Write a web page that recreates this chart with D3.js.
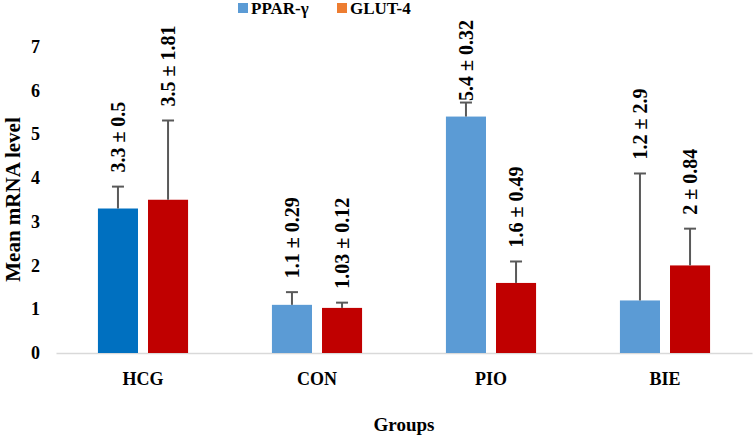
<!DOCTYPE html>
<html lang="en">
<head>
    <meta charset="UTF-8">
    <title>Mean mRNA level by group</title>
    <script src="https://cdn.jsdelivr.net/npm/d3@7"></script>
    <style>
        body { margin: 0; background: #fff; }
        svg text { font-family: "Liberation Serif", "DejaVu Serif", serif !important; font-weight: bold; fill: #000; }
    </style>
</head>
<body>
    <svg id="chart" width="753" height="437"></svg>
    <script>
        // data
        var groups = ["HCG", "CON", "PIO", "BIE"];
        var series = ["PPAR-γ", "GLUT-4"];
        var pparMean = [3.3, 1.1, 5.4, 1.2];
        var pparSd = [0.5, 0.29, 0.32, 2.9];
        var glutMean = [3.5, 1.03, 1.6, 2];
        var glutSd = [1.81, 0.12, 0.49, 0.84];
        var yTicks = [0, 1, 2, 3, 4, 5, 6, 7];

        var svg = d3.select("#chart");
        var marge = { top: 46, bottom: 84, left: 56, right: 1 };
        var width = +svg.attr("width");
        var height = +svg.attr("height");
        var y0 = height - marge.bottom;

        // flatten into bars
        var bars = [];
        groups.forEach(function (g, i) {
            bars.push({ group: g, s: series[0], v: pparMean[i], sd: pparSd[i] });
            bars.push({ group: g, s: series[1], v: glutMean[i], sd: glutSd[i] });
        });

        var x = d3.scaleBand().domain(groups).range([marge.left, width - marge.right]);
        var bw = x.bandwidth();
        var xs = d3.scaleBand().domain(series).range([bw * 0.241, bw * 0.759]).paddingInner(0.2);
        var y = d3.scaleLinear().domain([0, 7]).range([y0, marge.top + 0.5]);

        function color(d) {
            if (d.s === series[1]) return "#C00000";
            return d.group === "HCG" ? "#0070C0" : "#5B9BD5";
        }

        // y axis (labels only)
        var yAxis = d3.axisLeft(y).tickValues(yTicks).tickFormat(d3.format("d")).tickSize(0).tickPadding(0);
        var gy = svg.append("g").attr("transform", "translate(40,0)").call(yAxis);
        gy.select(".domain").remove();
        gy.selectAll("text").attr("font-size", 18);

        // x axis
        var xAxis = d3.axisBottom(x).tickSize(0).tickPadding(19);
        var gx = svg.append("g").attr("transform", "translate(0," + y0 + ")").call(xAxis);
        gx.select(".domain").attr("stroke", "#D9D9D9").attr("stroke-width", 1.5);
        gx.selectAll("text").attr("font-size", 18);

        // bars
        svg.append("g").selectAll("rect")
            .data(bars)
            .enter()
            .append("rect")
            .attr("x", function (d) { return x(d.group) + xs(d.s); })
            .attr("y", function (d) { return y(d.v); })
            .attr("width", xs.bandwidth())
            .attr("height", function (d) { return y0 - y(d.v); })
            .attr("fill", color);

        // error bars (plus only)
        var eg = svg.append("g").attr("stroke", "#595959").attr("stroke-width", 2);
        bars.forEach(function (d) {
            var cx = x(d.group) + xs(d.s) + xs.bandwidth() / 2;
            eg.append("line").attr("x1", cx).attr("x2", cx)
                .attr("y1", y(d.v)).attr("y2", y(d.v + d.sd));
            eg.append("line").attr("x1", cx - 6).attr("x2", cx + 6)
                .attr("y1", y(d.v + d.sd)).attr("y2", y(d.v + d.sd));
        });

        // value labels, rotated
        var lg = svg.append("g");
        bars.forEach(function (d) {
            var cx = x(d.group) + xs(d.s) + xs.bandwidth() / 2;
            var t = lg.append("text")
                .attr("font-size", 20)
                .attr("dy", "0.35em")
                .text(d.v + " ± " + d.sd);
            var len = t.node().getComputedTextLength();
            var start = y(d.v + d.sd) - 14;
            if (start - len < 20) start = 20 + len; // keep inside the chart
            t.attr("transform", "translate(" + cx + "," + start + ") rotate(-90)");
        });

        // axis titles
        svg.append("text")
            .attr("transform", "translate(13," + ((y0 + marge.top) / 2) + ") rotate(-90)")
            .attr("text-anchor", "middle")
            .attr("dy", "0.35em")
            .attr("font-size", 21)
            .text("Mean mRNA level");
        svg.append("text")
            .attr("x", (marge.left + width - marge.right) / 2)
            .attr("y", 431)
            .attr("text-anchor", "middle")
            .attr("font-size", 19)
            .text("Groups");

        // legend
        var legX = [238, 337];
        var leg = svg.append("g");
        series.forEach(function (s, i) {
            leg.append("rect").attr("x", legX[i]).attr("y", 3).attr("width", 10).attr("height", 10)
                .attr("fill", i === 0 ? "#5B9BD5" : "#ED7D31");
            leg.append("text").attr("x", legX[i] + 13).attr("y", 14).attr("font-size", 17).text(s);
        });
    </script>
</body>
</html>
